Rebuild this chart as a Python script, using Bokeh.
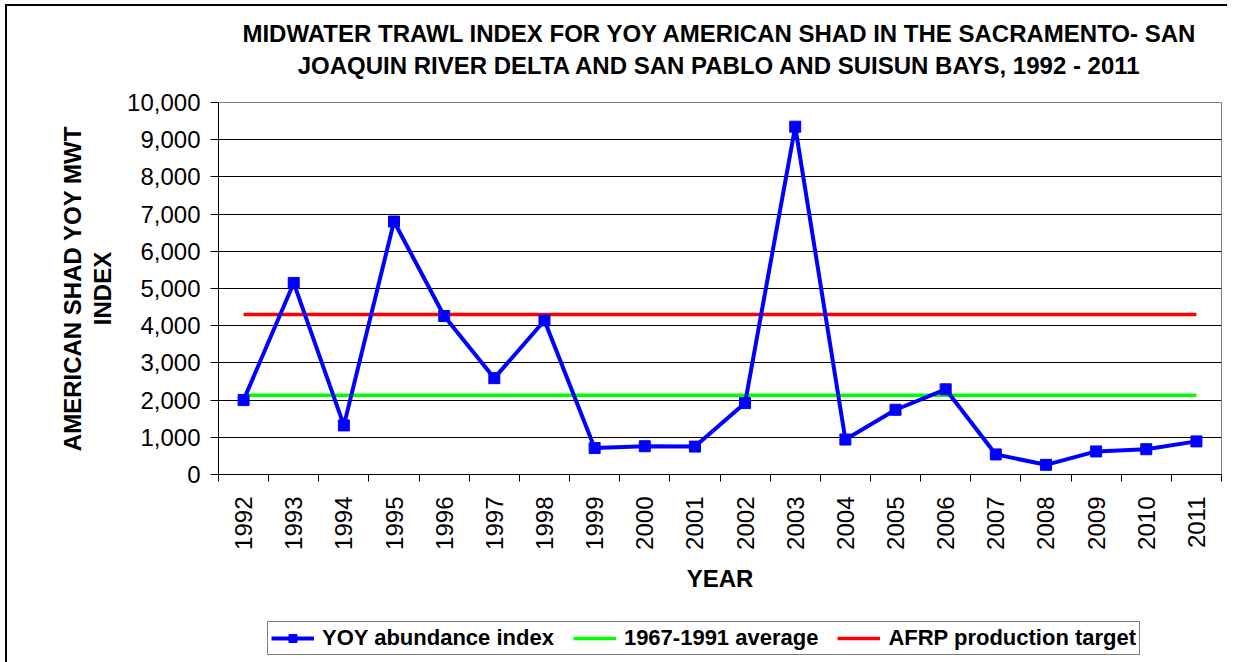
import math
from bokeh.plotting import figure
from bokeh.layouts import column
from bokeh.models import (ColumnDataSource, FixedTicker, NumeralTickFormatter, Title,
                          Legend, LegendItem, Range1d)
from bokeh.embed import file_html
from bokeh.resources import INLINE

# ---------------- data ----------------
years = [1992, 1993, 1994, 1995, 1996, 1997, 1998, 1999, 2000, 2001,
         2002, 2003, 2004, 2005, 2006, 2007, 2008, 2009, 2010, 2011]
yoy_index = [2000, 5150, 1320, 6800, 4260, 2590, 4140, 710, 760, 750,
             1920, 9350, 940, 1740, 2290, 540, 260, 620, 680, 890]
avg_1967_1991 = 2130
afrp_target = 4300
y_ticks = [0, 1000, 2000, 3000, 4000, 5000, 6000, 7000, 8000, 9000, 10000]

title_lines = ["MIDWATER TRAWL INDEX FOR YOY AMERICAN SHAD IN THE SACRAMENTO- SAN",
               "JOAQUIN RIVER DELTA AND SAN PABLO AND SUISUN BAYS, 1992 - 2011"]
y_label = "AMERICAN SHAD YOY MWT\nINDEX"
x_label = "YEAR"
legend_labels = ["YOY abundance index", "1967-1991 average", "AFRP production target"]

FONT = "Liberation Sans"
BLUE, GREEN, RED = "#0000FF", "#00FF00", "#FF0000"

pos = list(range(1, len(years) + 1))
src = ColumnDataSource(dict(x=pos, yoy=yoy_index,
                            avg=[avg_1967_1991] * len(years),
                            tgt=[afrp_target] * len(years)))

p = figure(width=1220, height=604, output_backend="svg", toolbar_location=None,
           x_range=Range1d(0.5, len(years) + 0.5), y_range=Range1d(0, 10000),
           min_border_left=211, min_border_right=6, min_border_top=96,
           min_border_bottom=136)
p.background_fill_color = "white"
p.border_fill_color = "white"
p.outline_line_color = "#808080"
p.outline_line_width = 1

# two title lines: second line added first so it sits closest to the plot
t2 = Title(text=title_lines[1], align="center", text_font=FONT, text_font_style="bold",
           text_font_size="24px", text_color="black", text_line_height=1.0, standoff=47)
t1 = Title(text=title_lines[0], align="center", text_font=FONT, text_font_style="bold",
           text_font_size="24px", text_color="black", text_line_height=1.0, standoff=0)
try:
    t1.standoff = -41
except Exception:
    t1.standoff = 0
p.add_layout(t2, "above")
p.add_layout(t1, "above")

# grid
p.xgrid.visible = False
p.ygrid.grid_line_color = "black"
p.ygrid.grid_line_width = 1
p.ygrid.ticker = FixedTicker(ticks=y_ticks)

# x axis
xa = p.xaxis[0]
xa.ticker = FixedTicker(ticks=pos, minor_ticks=[i + 0.5 for i in range(0, len(years) + 1)])
xa.major_label_overrides = {i: str(y) for i, y in zip(pos, years)}
xa.major_label_orientation = math.pi / 2
xa.major_tick_out = 0
xa.major_tick_in = 0
xa.minor_tick_out = 7
xa.minor_tick_in = 0
xa.minor_tick_line_color = "black"
xa.axis_line_color = "black"
xa.major_label_text_font = FONT
xa.major_label_text_font_size = "24px"
xa.major_label_text_color = "black"
xa.major_label_standoff = 15
xa.axis_label = x_label
xa.axis_label_text_font = FONT
xa.axis_label_text_font_style = "bold"
xa.axis_label_text_font_size = "24px"
xa.axis_label_text_color = "black"
xa.axis_label_standoff = 12

# y axis
ya = p.yaxis[0]
ya.ticker = FixedTicker(ticks=y_ticks)
ya.formatter = NumeralTickFormatter(format="0,0")
ya.major_tick_out = 8
ya.major_tick_in = 0
ya.minor_tick_out = 0
ya.minor_tick_in = 0
ya.major_tick_line_color = "black"
ya.axis_line_color = "black"
ya.major_label_text_font = FONT
ya.major_label_text_font_size = "24px"
ya.major_label_text_color = "black"
ya.major_label_standoff = 10
ya.axis_label = y_label
ya.axis_label_text_font = FONT
ya.axis_label_text_font_style = "bold"
ya.axis_label_text_font_size = "24px"
ya.axis_label_text_color = "black"
ya.axis_label_text_line_height = 1.12
ya.axis_label_standoff = 8

# series
p.line("x", "avg", source=src, line_color=GREEN, line_width=3.5)
p.line("x", "tgt", source=src, line_color=RED, line_width=3.5)
p.line("x", "yoy", source=src, line_color=BLUE, line_width=4)
p.scatter("x", "yoy", source=src, marker="square", size=11,
          fill_color=BLUE, line_color=BLUE)

# ---------------- legend strip ----------------
lg = figure(width=1220, height=52, output_backend="svg", toolbar_location=None,
            x_range=Range1d(0, 1), y_range=Range1d(0, 1),
            min_border_left=0, min_border_right=0, min_border_top=0, min_border_bottom=0)
lg.axis.visible = False
lg.grid.visible = False
lg.outline_line_color = None
lg.background_fill_color = "white"
lg.border_fill_color = "white"
# one point kept outside the visible range, only so that the legend can draw its swatches
hidden = ColumnDataSource(dict(x=[-5], y=[-5]))
l_line = lg.line("x", "y", source=hidden, line_color=BLUE, line_width=4)
l_pts = lg.scatter("x", "y", source=hidden, marker="square", size=11,
                   fill_color=BLUE, line_color=BLUE)
l_avg = lg.line("x", "y", source=hidden, line_color=GREEN, line_width=3.5)
l_tgt = lg.line("x", "y", source=hidden, line_color=RED, line_width=3.5)

legend = Legend(items=[LegendItem(label=legend_labels[0], renderers=[l_line, l_pts]),
                       LegendItem(label=legend_labels[1], renderers=[l_avg]),
                       LegendItem(label=legend_labels[2], renderers=[l_tgt])],
                location=(49, 7), orientation="horizontal")
legend.label_text_font = FONT
legend.label_text_font_style = "bold"
legend.label_text_font_size = "22px"
legend.label_text_color = "black"
legend.glyph_width = 43
legend.glyph_height = 20
legend.label_height = 20
legend.label_standoff = 8
legend.spacing = 19
legend.padding = 3
legend.margin = 0
legend.border_line_color = "black"
legend.border_line_width = 1
legend.background_fill_color = "white"
legend.background_fill_alpha = 1
lg.add_layout(legend, "center")

layout = column(p, lg, spacing=0)
layout.styles = {"border-left": "2px solid #000000", "border-top": "2px solid #000000",
                 "margin-left": "5px", "margin-top": "4px"}
open("out.html", "w").write(file_html(layout, INLINE))
